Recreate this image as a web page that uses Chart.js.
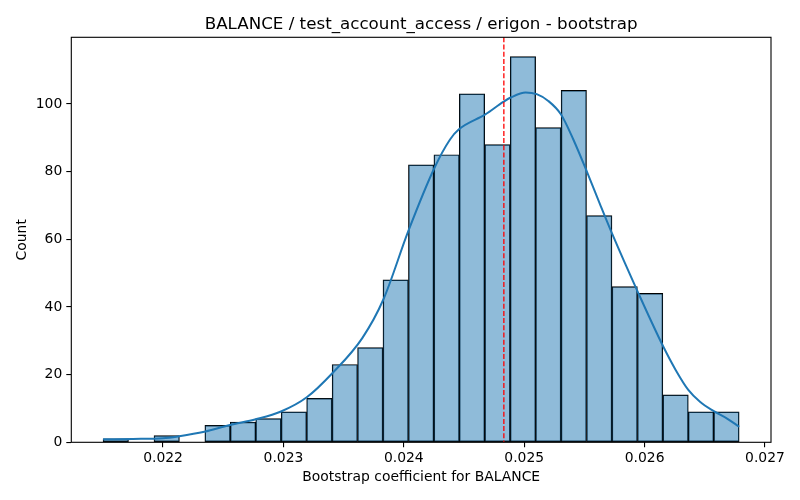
<!DOCTYPE html>
<html>
<head>
<meta charset="utf-8">
<script src="https://cdn.jsdelivr.net/npm/chart.js@4/dist/chart.umd.min.js"></script>
<style>
  html, body { margin: 0; padding: 0; background: #fff; }
</style>
</head>
<body>
<canvas id="histo" width="800" height="500"></canvas>
<script>
// Histograma bootstrap del coeficiente BALANCE (con curva KDE)

// bordes de los bins (25 bins)
const binEdges = [0.021502, 0.021713, 0.021925, 0.022136, 0.022347, 0.022559, 0.022770,
  0.022981, 0.023193, 0.023404, 0.023616, 0.023827, 0.024038, 0.024250, 0.024461,
  0.024672, 0.024884, 0.025095, 0.025306, 0.025518, 0.025729, 0.025940, 0.026152,
  0.026363, 0.026574, 0.026786];

// conteos por bin
const counts = [1, 0, 2, 0, 5, 6, 7, 9, 13, 23, 28, 48, 82, 85, 103, 88, 114, 93, 104, 67, 46, 44, 14, 9, 9];

// curva KDE
const kdeX = [0.021502, 0.021750, 0.022000, 0.022135, 0.022343, 0.022556, 0.022770, 0.022980,
  0.023194, 0.023406, 0.023655, 0.023830, 0.024037, 0.024253, 0.024384, 0.024458,
  0.024677, 0.024826, 0.024888, 0.025012, 0.025104, 0.025200, 0.025306, 0.025408, 0.025524,
  0.025630, 0.025732, 0.025948, 0.026155, 0.026258, 0.026363, 0.026460, 0.026571, 0.026682, 0.026786];
const kdeY = [0.9, 1.0, 1.2, 1.8, 3.1, 5.1, 6.8, 9.1,
  13.3, 20.4, 30.8, 42.2, 62.4, 81.0, 89.5, 92.5,
  96.9, 100.6, 101.9, 103.4, 102.9, 100.9, 96.9, 89.5, 79.7,
  70.3, 61.5, 44.1, 28.3, 21.4, 15.5, 12.0, 9.3, 7.1, 4.6];

// linea de referencia (roja discontinua)
const refValue = 0.024831;

const xTicks = [0.022, 0.023, 0.024, 0.025, 0.026, 0.027];
const yTicks = [0, 20, 40, 60, 80, 100];

const titulo = 'BALANCE / test_account_access / erigon - bootstrap';
const xLabel = 'Bootstrap coefficient for BALANCE';
const yLabel = 'Count';

const FONT = 'DejaVu Sans';

// armar datos para chart.js
const barData = counts.map((c, i) => ({ x: (binEdges[i] + binEdges[i + 1]) / 2, y: c }));
const kdeData = kdeX.map((x, i) => ({ x: x, y: kdeY[i] }));

// marco + titulo + linea roja
const extras = {
  id: 'extras',
  afterDatasetsDraw(chart) {
    const ctx = chart.ctx;
    const area = chart.chartArea;
    const px = chart.scales.x.getPixelForValue(refValue);
    ctx.save();
    ctx.strokeStyle = 'red';
    ctx.lineWidth = 1.3;
    ctx.setLineDash([5, 2.2]);
    ctx.beginPath();
    ctx.moveTo(px, area.top);
    ctx.lineTo(px, area.bottom);
    ctx.stroke();
    ctx.restore();
  },
  afterDraw(chart) {
    const ctx = chart.ctx;
    const a = chart.chartArea;
    ctx.save();
    ctx.strokeStyle = '#000';
    ctx.lineWidth = 1.1;
    ctx.strokeRect(a.left, a.top, a.right - a.left, a.bottom - a.top);
    ctx.fillStyle = '#000';
    ctx.font = '16.7px "' + FONT + '"';
    ctx.textAlign = 'center';
    ctx.textBaseline = 'alphabetic';
    ctx.fillText(titulo, (a.left + a.right) / 2, 29.3);
    ctx.restore();
  }
};

const Canvas = document.getElementById('histo');

const chart = new Chart(Canvas, {
  type: 'bar',
  data: {
    datasets: [{
      type: 'line',
      label: 'kde',
      data: kdeData,
      borderColor: '#1f77b4',
      borderWidth: 2,
      pointRadius: 0,
      cubicInterpolationMode: 'monotone',
      fill: false,
      order: 0
    }, {
      label: 'count',
      data: barData,
      backgroundColor: 'rgba(31, 119, 180, 0.5)',
      borderColor: '#000',
      borderWidth: 0.8,
      borderSkipped: false,
      barPercentage: 1,
      categoryPercentage: 1,
      grouped: false,
      order: 1
    }]
  },
  options: {
    responsive: false,
    animation: false,
    devicePixelRatio: 1,
    layout: { padding: { top: 37.3, right: 29, left: 0, bottom: 0 } },
    plugins: {
      legend: { display: false },
      tooltip: { enabled: false },
      title: { display: false }
    },
    scales: {
      x: {
        type: 'linear',
        min: 0.021238,
        max: 0.02705,
        offset: false,
        grid: { offset: false, drawOnChartArea: false, drawTicks: true, tickLength: 5, color: '#000', lineWidth: 1.1 },
        border: { display: false },
        afterBuildTicks(scale) { scale.ticks = xTicks.map(v => ({ value: v })); },
        afterFit(scale) { scale.height = 57.7; },
        ticks: {
          color: '#000',
          font: { family: FONT, size: 13.9 },
          padding: 3,
          maxRotation: 0,
          autoSkip: false,
          callback: v => Number(v).toFixed(3)
        },
        title: {
          display: true,
          text: xLabel,
          color: '#000',
          font: { family: FONT, size: 13.9 },
          padding: { top: 0, bottom: 14.5 }
        }
      },
      y: {
        type: 'linear',
        min: 0,
        max: 119.7,
        grid: { drawOnChartArea: false, drawTicks: true, tickLength: 5, color: '#000', lineWidth: 1.1 },
        border: { display: false },
        afterBuildTicks(scale) { scale.ticks = yTicks.map(v => ({ value: v })); },
        afterFit(scale) { scale.width = 71.3; },
        ticks: {
          color: '#000',
          font: { family: FONT, size: 13.9 },
          padding: 4,
          autoSkip: false,
          callback: v => String(v)
        },
        title: {
          display: true,
          text: yLabel,
          color: '#000',
          font: { family: FONT, size: 13.9 },
          padding: { top: 14, bottom: 0 }
        }
      }
    }
  },
  plugins: [extras]
});
</script>
</body>
</html>
